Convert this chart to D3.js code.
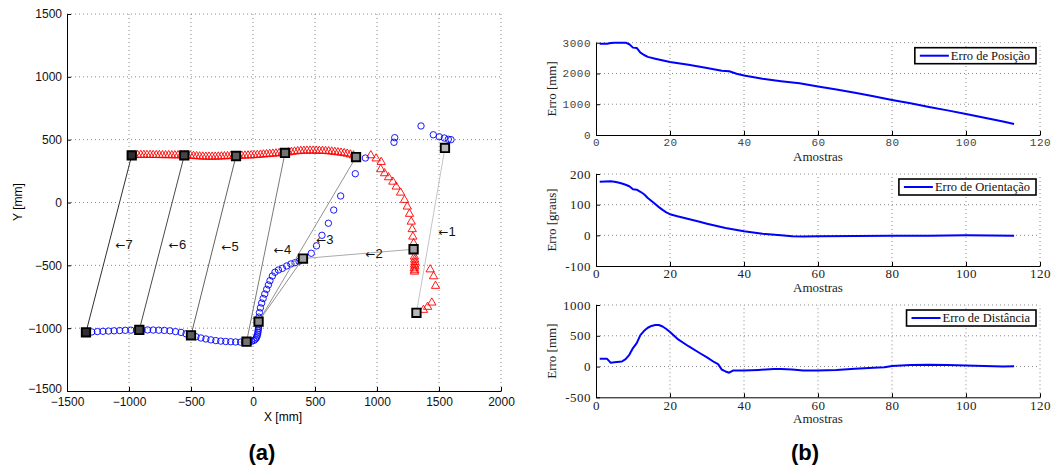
<!DOCTYPE html>
<html><head><meta charset="utf-8">
<script src="https://cdn.jsdelivr.net/npm/d3@7"></script>
<style>body{margin:0;background:#fff}svg{display:block}</style>
</head><body>
<svg id="c" width="1062" height="468"></svg>
<script>
// ================= DATA =================
// Panel (a): leader trajectory (red triangles), mm
const leaderPath = [
[-978,375],[-955,376],[-930,377],[-905,378],[-880,378],[-855,378],[-830,378],[-805,377],[-780,377],[-755,377],[-730,376],[-705,376],[-680,376],[-655,375],[-630,375],[-605,375],[-580,375],[-554,375],[-530,374],[-505,372],[-480,370],[-455,368],[-430,366],[-405,365],[-380,364],[-355,364],[-330,364],[-305,364],[-280,365],[-255,366],[-230,367],[-205,368],[-180,369],[-158,370],[-137,370],[-115,371],[-90,372],[-65,373],[-40,374],[-15,375],[10,376],[35,378],[60,380],[85,382],[110,384],[135,386],[160,388],[185,390],[210,392],[235,393],[258,394],[285,398],[310,402],[335,405],[360,408],[385,410],[410,411],[435,412],[460,412],[485,412],[510,412],[535,411],[560,410],[585,409],[610,407],[635,405],[660,402],[685,399],[710,396],[735,392],[760,388],[785,382],[810,374],[831,362],
[950,375],[993,350],[1034,322],[1030,264],[1061,232],[1093,200],[1128,165],[1155,126],[1190,78],[1222,20],[1244,-33],[1262,-91],[1276,-153],[1284,-213],[1289,-272],[1295,-325],[1295,-372],
[1302,-431],[1304,-455],[1305,-475],[1303,-495],[1306,-510],[1300,-525],[1304,-540],[1302,-551],
[1429,-533],[1456,-588],[1472,-664],[1442,-797],[1408,-831],[1375,-855]
];
// Panel (a): follower trajectory (blue circles), mm
const followerPath = [
[-1347,-1033],[-1300,-1030],[-1255,-1027],[-1210,-1025],[-1165,-1023],[-1120,-1021],[-1075,-1019],[-1030,-1017],[-985,-1016],[-940,-1015],[-917,-1014],[-895,-1014],[-850,-1014],[-805,-1015],[-760,-1016],[-715,-1018],[-670,-1021],[-625,-1027],[-580,-1034],[-540,-1045],[-500,-1057],[-460,-1068],[-420,-1078],[-380,-1086],[-340,-1093],[-300,-1099],[-260,-1103],[-220,-1106],[-180,-1108],[-140,-1110],[-100,-1111],[-70,-1110],[-52,-1108],
[-30,-1108],[-10,-1104],[8,-1097],[20,-1087],[28,-1075],[33,-1062],[37,-1048],[40,-1032],[42,-1016],[44,-1000],[45,-985],[45,-968],[45,-948],
[48,-912],[52,-876],[60,-838],[70,-800],[82,-764],[95,-728],[110,-691],[124,-656],[137,-622],[156,-585],[177,-555],[205,-537],[237,-524],[272,-505],[306,-489],[339,-479],[371,-468],[403,-446],
[470,-404],[512,-345],[556,-261],[608,-165],[651,-60],[707,52],[825,229],[906,354],[1137,479],[1143,516],[1355,609],[1454,539],[1502,523],[1543,513],[1575,503],[1597,500]
];
// Paired poses (index k -> pair label k)
const pairIds = [1,2,3,4,5,6,7];
const leaderPoses = [[1548,434],[1295,-372],[831,362],[258,394],[-137,370],[-554,375],[-978,375]];
const followerPoses = [[1318,-878],[403,-446],[45,-948],[-52,-1108],[-500,-1057],[-917,-1014],[-1347,-1033]];
const pairLabelAt = [[1565,-227],[976,-407],[580,-293],[238,-372],[-185,-352],[-609,-333],[-1040,-333]];
const extraLinks = [[[45,-948],[403,-446]]];
const xTicksA = [-1500,-1000,-500,0,500,1000,1500,2000];
const yTicksA = [-1500,-1000,-500,0,500,1000,1500];

// Panel (b)
const samplesTicks = [0,20,40,60,80,100,120];
const posSamples = [1,3,4,5,8,9,10,11,12,13,14,16,20,25,30,34,36,38,40,45,50,55,60,65,70,75,80,85,90,95,100,105,110,113];
const posError   = [2965,2965,2990,3000,3000,2950,2840,2830,2680,2600,2540,2480,2370,2280,2180,2090,2070,1990,1935,1830,1750,1680,1580,1480,1370,1260,1140,1030,910,800,680,560,440,357];
const oriSamples = [1,4,5,6,7,8,9,10,11,12,13,14,15,16,17,18,19,20,22,25,28,30,35,40,45,50,53,56,60,70,80,90,100,113];
const oriError   = [175,176,175,172,169,165,160,150,149,142,134,122,112,102,92,83,75,69,62,53,44,38,24,13,5,0,-3,-4,-3,-2,-1,-1,0,-1];
const distSamples = [1,3,4,5,7,8,9,10,11,12,13,14,15,16,17,18,19,20,22,25,28,30,32,33,34,35,36,37,40,44,48,50,53,56,60,65,70,75,78,80,85,90,95,100,105,110,113];
const distError   = [125,125,60,68,82,120,190,300,380,510,580,630,660,675,675,650,610,560,450,330,220,150,70,40,-50,-80,-100,-65,-65,-55,-40,-40,-50,-65,-65,-55,-35,-20,-10,10,25,30,25,15,8,0,5];
const posTicks = [0,1000,2000,3000];
const oriTicks = [-100,0,100,200];
const distTicks = [-500,0,500,1000];

// ================= DRAW =================
const svg = d3.select("#c");
const gridStyle = s => s.attr("stroke","#7a7a7a").attr("stroke-width",0.9).attr("stroke-dasharray","1,3");
const SANS = "Liberation Sans, Arial, sans-serif";

// ---------- Panel (a) ----------
const xA = d3.scaleLinear().domain([-1500,2000]).range([67,501]);
const yA = d3.scaleLinear().domain([-1500,1500]).range([391,14]);
const gA = svg.append("g");
gA.selectAll("line.gx").data(xTicksA.slice(1)).join("line")
  .attr("x1",d=>xA(d)).attr("x2",d=>xA(d)).attr("y1",yA(-1500)).attr("y2",yA(1500)).call(gridStyle);
gA.selectAll("line.gy").data(yTicksA.slice(1)).join("line")
  .attr("y1",d=>yA(d)).attr("y2",d=>yA(d)).attr("x1",xA(-1500)).attr("x2",xA(2000)).call(gridStyle);

const fmtA = d3.format("d");
const axA_x = gA.append("g").attr("transform",`translate(0,${yA(-1500)})`)
  .call(d3.axisBottom(xA).tickValues(xTicksA).tickSize(-4).tickSizeOuter(0).tickPadding(6).tickFormat(fmtA));
const axA_y = gA.append("g").attr("transform",`translate(${xA(-1500)},0)`)
  .call(d3.axisLeft(yA).tickValues(yTicksA).tickSize(-4).tickSizeOuter(0).tickPadding(5).tickFormat(fmtA));
[axA_x,axA_y].forEach(a=>{
  a.selectAll("text").attr("font-family",SANS).attr("font-size",12).attr("fill","#111");
  a.select(".domain").attr("stroke","#000");
});
axA_y.selectAll(".tick text").filter(d=>d===-1500).attr("dy","0.1em");
gA.append("text").attr("x",283).attr("y",421).attr("text-anchor","middle")
  .attr("font-family",SANS).attr("font-size",12).text("X [mm]");
gA.append("text").attr("transform","translate(22,202) rotate(-90)").attr("text-anchor","middle")
  .attr("font-family",SANS).attr("font-size",12).text("Y [mm]");

// trajectories
gA.append("g").selectAll("path").data(leaderPath).join("path")
  .attr("d",d3.symbol().type(d3.symbolTriangle).size(30))
  .attr("transform",d=>`translate(${xA(d[0])},${yA(d[1])})`)
  .attr("fill","none").attr("stroke","#ff0000").attr("stroke-width",0.9);
gA.append("g").selectAll("circle").data(followerPath).join("circle")
  .attr("cx",d=>xA(d[0])).attr("cy",d=>yA(d[1])).attr("r",3.2)
  .attr("fill","none").attr("stroke","#0000ff").attr("stroke-width",0.9);

const shade = d3.scaleLinear().domain([1,7]).range(["#b8b8b8","#2e2e2e"]);
const lineShade = d3.scaleLinear().domain([1,7]).range(["#c4c4c4","#303030"]);
// links
gA.append("g").selectAll("line").data(pairIds).join("line")
  .attr("x1",(d,i)=>xA(leaderPoses[i][0])).attr("y1",(d,i)=>yA(leaderPoses[i][1]))
  .attr("x2",(d,i)=>xA(followerPoses[i][0])).attr("y2",(d,i)=>yA(followerPoses[i][1]))
  .attr("stroke",d=>lineShade(d)).attr("stroke-width",1);
gA.append("g").selectAll("line").data(extraLinks).join("line")
  .attr("x1",d=>xA(d[0][0])).attr("y1",d=>yA(d[0][1]))
  .attr("x2",d=>xA(d[1][0])).attr("y2",d=>yA(d[1][1]))
  .attr("stroke",lineShade(3)).attr("stroke-width",1);
// squares
const sq = d3.symbol().type(d3.symbolSquare).size(70);
[leaderPoses,followerPoses].forEach(P=>{
  gA.append("g").selectAll("path").data(pairIds).join("path")
    .attr("d",sq).attr("transform",(d,i)=>`translate(${xA(P[i][0])},${yA(P[i][1])})`)
    .attr("fill",d=>shade(d)).attr("stroke","#000").attr("stroke-width",1.9);
});
// labels
const lab = gA.append("g").selectAll("text").data(pairIds).join("text")
  .attr("x",(d,i)=>xA(pairLabelAt[i][0])).attr("y",(d,i)=>yA(pairLabelAt[i][1]))
  .attr("dy","0.35em").attr("text-anchor","middle")
  .attr("font-family",SANS).attr("font-size",13).attr("fill","#111");
lab.append("tspan").attr("font-family","DejaVu Sans, sans-serif").attr("font-size",12).text("\u2190");
lab.append("tspan").text(d=>String(d));

svg.append("text").attr("x",262).attr("y",460).attr("text-anchor","middle")
  .attr("font-family",SANS).attr("font-weight","bold").attr("font-size",22).text("(a)");
svg.append("text").attr("x",805).attr("y",460).attr("text-anchor","middle")
  .attr("font-family",SANS).attr("font-weight","bold").attr("font-size",22).text("(b)");

// ---------- Panel (b) ----------
const xB = d3.scaleLinear().domain([0,120]).range([596,1040]);
function panel(o){
  const y = d3.scaleLinear().domain([o.ticks[0],o.ticks[o.ticks.length-1]]).range([o.bottom,o.top]);
  const g = svg.append("g");
  g.selectAll("line.gx").data(samplesTicks.slice(1)).join("line")
    .attr("x1",d=>xB(d)).attr("x2",d=>xB(d)).attr("y1",o.bottom).attr("y2",o.top).call(gridStyle);
  g.selectAll("line.gy").data(o.ticks.slice(1)).join("line")
    .attr("y1",d=>y(d)).attr("y2",d=>y(d)).attr("x1",xB(0)).attr("x2",xB(120)).call(gridStyle);
  const ax = g.append("g").attr("transform",`translate(0,${o.bottom})`)
    .call(d3.axisBottom(xB).tickValues(samplesTicks).tickSize(-4).tickSizeOuter(0).tickPadding(3).tickFormat(d=>String(d)));
  const ay = g.append("g").attr("transform",`translate(${xB(0)},0)`)
    .call(d3.axisLeft(y).tickValues(o.ticks).tickSize(-4).tickSizeOuter(0).tickPadding(5).tickFormat(d=>String(d)));
  [ax,ay].forEach(a=>{
    a.selectAll("text").attr("font-family",o.tickFont).attr("font-size",o.tickSize).attr("fill",o.tickColor)
      .attr("letter-spacing",o.tickSpacing);
    a.select(".domain").attr("stroke","#000");
  });
  g.append("text").attr("x",(xB(0)+xB(120))/2).attr("y",o.bottom+26).attr("text-anchor","middle")
    .attr("font-family","Liberation Serif, serif").attr("font-size",13).attr("fill","#222").text("Amostras");
  g.append("text").attr("transform",`translate(556,${(o.top+o.bottom)/2}) rotate(-90)`).attr("text-anchor","middle")
    .attr("font-family","Liberation Serif, serif").attr("font-size",13).attr("fill","#222").text(o.ylabel);
  g.append("path").datum(o.xs.map((s,i)=>[s,o.ys[i]]))
    .attr("d",d3.line().x(d=>xB(d[0])).y(d=>y(d[1])))
    .attr("fill","none").attr("stroke","#0000ff").attr("stroke-width",2).attr("stroke-linejoin","round");
  // legend
  const lg = g.append("g");
  const t = lg.append("text").attr("font-family","Liberation Serif, serif").attr("font-size",12.5).attr("fill","#111").text(o.legend);
  const tw = t.node().getComputedTextLength();
  const right = xB(120)-4, top = o.top+5, h = 16;
  const w = tw + 42;
  lg.insert("rect","text").attr("x",right-w).attr("y",top).attr("width",w).attr("height",h)
    .attr("fill","#fff").attr("stroke","#000").attr("stroke-width",1.6);
  lg.append("line").attr("x1",right-w+5).attr("x2",right-w+34).attr("y1",top+h/2).attr("y2",top+h/2)
    .attr("stroke","#0000ff").attr("stroke-width",2);
  t.attr("x",right-w+36).attr("y",top+h/2).attr("dy","0.34em");
}
panel({xs:posSamples,ys:posError,ticks:posTicks,top:42.7,bottom:135,ylabel:"Erro [mm]",legend:"Erro de Posição",
  tickFont:"Liberation Mono, monospace",tickSize:11,tickColor:"#444",tickSpacing:"0.5px"});
panel({xs:oriSamples,ys:oriError,ticks:oriTicks,top:174,bottom:266,ylabel:"Erro [graus]",legend:"Erro de Orientação",
  tickFont:"Liberation Serif, serif",tickSize:13,tickColor:"#222",tickSpacing:"0.5px"});
panel({xs:distSamples,ys:distError,ticks:distTicks,top:305,bottom:397.3,ylabel:"Erro [mm]",legend:"Erro de Distância",
  tickFont:"Liberation Serif, serif",tickSize:13,tickColor:"#222",tickSpacing:"0.5px"});
</script>
</body></html>
